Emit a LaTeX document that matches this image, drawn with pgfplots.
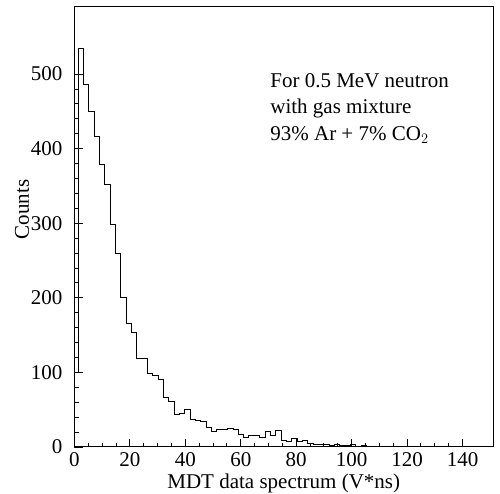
\documentclass[border=0pt]{standalone}
\usepackage{fontspec}
\setmainfont{Liberation Serif}
\usepackage{pgfplots}
\pgfplotsset{compat=1.18}
\begin{document}
\fontsize{21}{25}\selectfont
\begin{tikzpicture}
\path[use as bounding box] (-74.5pt,-47pt) rectangle (425.5pt,447pt);
\begin{axis}[
  at={(0pt,0pt)}, anchor=south west,
  width=418.5pt, height=440pt, scale only axis,
  xmin=0, xmax=151, ymin=0, ymax=590,
  xtick={0,20,...,140}, ytick={0,100,...,500},
  minor x tick num=3, minor y tick num=4,
  xtick pos=left, ytick pos=left,
  tick align=inside,
  major tick length=8pt, minor tick length=4pt,
  axis line style={line width=1pt},
  every tick/.style={black, line width=0.9pt},
  /pgf/number format/assume math mode=true,
  tick label style={font=\fontsize{21}{25}\selectfont},
  yticklabel style={xshift=-5pt},
  xticklabel style={yshift=2pt},
  label style={font=\fontsize{21}{25}\selectfont},
  xlabel={MDT data spectrum (V*ns)},
  ylabel={Counts},
  xlabel style={at={(axis description cs:0.5,-0.0932)}, anchor=base},
  ylabel style={at={(axis description cs:-0.1255,0.54)}, anchor=center},
  clip=false,
]
\addplot[const plot, mark=none, line width=1pt, black] coordinates {
(0,100)
(1.36,534) (3.29,486) (5.21,450) (7.14,416) (9.06,379) (10.99,352)
(12.91,299) (14.84,259) (16.76,201) (18.69,165) (20.61,154) (22.54,119)
(24.46,118) (26.39,98) (28.31,96) (30.24,90) (32.16,67) (34.09,61)
(36.01,43) (37.94,45) (39.86,50) (41.79,37) (43.71,35) (45.64,34)
(47.56,26) (49.49,21) (51.41,24) (53.34,23) (55.26,25) (57.19,24)
(59.11,17) (61.04,13) (62.96,15) (64.89,15) (66.81,13) (68.74,21)
(70.66,15) (72.59,22) (74.51,9) (76.44,8) (78.36,11) (80.29,7)
(82.21,9) (84.14,5) (86.06,4) (87.99,4) (89.91,3) (91.84,2)
(93.76,3) (95.69,2) (97.61,2) (99.54,3) (101.46,1) (103.39,2)
(105.31,1) (107.24,1) (109.16,0) (111.09,1) (113.01,1) (114.94,0)
(116.86,1) (118.79,0) (120.71,1) (122.64,0) (124.56,0) (126.49,0)
(128.41,0) (130.34,0) (132.26,0) (134.19,0) (136.11,0) (138.04,0)
(139.96,1) (141.89,0) (143.81,0) (145.74,0) (147.66,0) (149.59,0)
(151,0)
};
\node[anchor=base west, inner sep=0pt] at (axis cs:70.6,482.7) {For 0.5 MeV neutron};
\node[anchor=base west, inner sep=0pt] at (axis cs:70.6,447.8) {with gas mixture};
\node[anchor=base west, inner sep=0pt] at (axis cs:70.6,411.6) {93\% Ar + 7\% CO$_2$};
\end{axis}
\end{tikzpicture}
\end{document}
